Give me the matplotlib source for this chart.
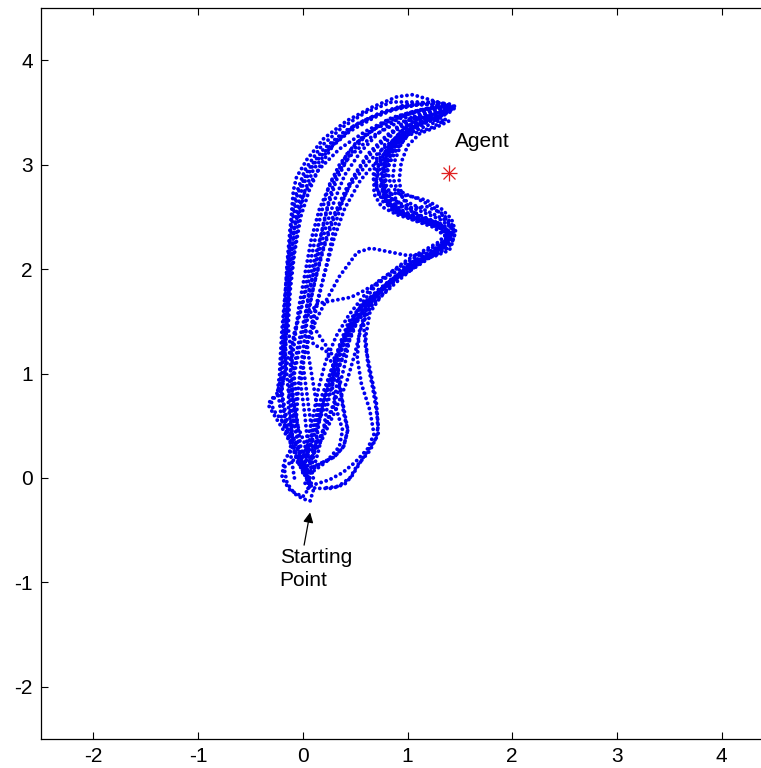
import matplotlib
matplotlib.use('Agg')
import matplotlib.pyplot as plt

plt.rcParams['font.family'] = ['Liberation Sans', 'DejaVu Sans']
plt.rcParams['axes.unicode_minus'] = False

# trajectories (x, y in plot units)
t1_x = [0.02, -0.06, -0.15, -0.2, -0.19, -0.17, -0.15, -0.13, -0.11, -0.09, -0.06, 0.04, 0.2, 0.42, 0.66, 0.9, 1.05, 1.22, 1.36, 1.46, 1.4, 1.2, 1.0, 0.86, 0.76, 0.7, 0.72, 0.86, 1.06, 1.24, 1.36, 1.43, 1.39, 1.26, 1.08, 0.9, 0.74, 0.64, 0.6, 0.62, 0.67, 0.71, 0.72, 0.64, 0.52, 0.45, 0.34, 0.18]
t1_y = [0.08, 0.3, 0.55, 0.8, 1.1, 1.45, 1.8, 2.15, 2.5, 2.75, 2.88, 3.05, 3.25, 3.42, 3.55, 3.65, 3.67, 3.62, 3.58, 3.55, 3.5, 3.43, 3.33, 3.2, 3.03, 2.85, 2.72, 2.73, 2.69, 2.6, 2.49, 2.37, 2.26, 2.16, 2.03, 1.88, 1.73, 1.58, 1.35, 1.1, 0.85, 0.6, 0.42, 0.26, 0.12, 0.0, -0.08, -0.1]

t2_x = [-0.05, -0.18, -0.15, -0.08, 0.0, 0.07, 0.1, 0.05, -0.02, -0.1, -0.18, -0.26, -0.33, -0.3, -0.22, -0.17, -0.16, -0.14, -0.12, -0.08, 0.0, 0.15, 0.35, 0.6, 0.85, 1.1, 1.3, 1.42, 1.3, 1.1, 0.95, 0.84, 0.78, 0.8, 0.95, 1.15, 1.33, 1.42, 1.36, 1.2, 1.02, 0.84, 0.68, 0.52, 0.42, 0.36, 0.33, 0.3, 0.2, 0.08]
t2_y = [0.2, 0.1, -0.05, -0.15, -0.2, -0.22, -0.12, 0.0, 0.15, 0.3, 0.45, 0.58, 0.7, 0.76, 0.8, 1.0, 1.35, 1.7, 2.05, 2.4, 2.7, 2.95, 3.15, 3.32, 3.45, 3.52, 3.56, 3.54, 3.47, 3.4, 3.28, 3.12, 2.95, 2.78, 2.6, 2.5, 2.42, 2.33, 2.22, 2.12, 2.0, 1.88, 1.75, 1.6, 1.42, 1.2, 0.95, 0.7, 0.45, 0.25]

t3_x = [0.0, 0.05, 0.02, -0.02, 0.02, 0.1, 0.17, 0.24, 0.3, 0.38, 0.48, 0.62, 0.8, 1.0, 1.2, 1.38, 1.3, 1.12, 0.96, 0.86, 0.8, 0.78, 0.84, 0.98, 1.15, 1.3, 1.38, 1.3, 1.15, 0.98, 0.8, 0.62, 0.48, 0.38, 0.3, 0.28, 0.32, 0.38, 0.35, 0.22, 0.08]
t3_y = [0.05, 0.3, 0.6, 0.9, 1.2, 1.5, 1.8, 2.1, 2.4, 2.65, 2.88, 3.1, 3.28, 3.42, 3.5, 3.52, 3.46, 3.38, 3.25, 3.1, 2.93, 2.76, 2.62, 2.52, 2.45, 2.4, 2.3, 2.2, 2.1, 1.98, 1.85, 1.7, 1.52, 1.32, 1.1, 0.88, 0.66, 0.46, 0.3, 0.15, 0.05]

t4_x = [-0.02, -0.1, -0.12, -0.1, -0.05, 0.02, 0.08, 0.14, 0.2, 0.26, 0.32, 0.42, 0.58, 0.78, 1.0, 1.22, 1.4, 1.32, 1.15, 1.0, 0.9, 0.82, 0.78, 0.8, 0.92, 1.1, 1.28, 1.4, 1.36, 1.22, 1.0, 0.8, 0.65, 0.52, 0.35, 0.24, 0.14, 0.08, 0.1, 0.22, 0.3, 0.36, 0.4, 0.43, 0.39, 0.3, 0.17, 0.04]
t4_y = [0.1, 0.35, 0.65, 0.95, 1.25, 1.55, 1.85, 2.15, 2.45, 2.7, 2.9, 3.1, 3.28, 3.4, 3.48, 3.53, 3.55, 3.5, 3.45, 3.35, 3.2, 3.05, 2.88, 2.7, 2.58, 2.48, 2.42, 2.33, 2.24, 2.15, 2.13, 2.17, 2.2, 2.16, 1.93, 1.73, 1.54, 1.4, 1.28, 1.22, 1.05, 0.84, 0.62, 0.46, 0.3, 0.2, 0.14, 0.08]

t5_x = [0.05, -0.02, -0.08, -0.14, -0.17, -0.15, -0.12, -0.08, -0.04, 0.02, 0.1, 0.25, 0.45, 0.68, 0.92, 1.15, 1.35, 1.44, 1.3, 1.1, 0.92, 0.8, 0.72, 0.7, 0.76, 0.92, 1.12, 1.3, 1.42, 1.38, 1.25, 1.08, 0.9, 0.72, 0.56, 0.44, 0.36, 0.28, 0.18, 0.1, 0.05, 0.0]
t5_y = [-0.05, 0.2, 0.5, 0.85, 1.2, 1.55, 1.9, 2.2, 2.5, 2.75, 2.95, 3.15, 3.32, 3.45, 3.55, 3.58, 3.57, 3.55, 3.48, 3.4, 3.3, 3.15, 2.98, 2.8, 2.65, 2.55, 2.47, 2.4, 2.32, 2.23, 2.14, 2.05, 1.93, 1.8, 1.65, 1.5, 1.3, 1.05, 0.78, 0.5, 0.25, 0.05]

t6_x = [0.1, 0.05, -0.05, -0.1, -0.12, -0.08, 0.0, 0.06, 0.12, 0.18, 0.25, 0.35, 0.5, 0.7, 0.95, 1.2, 1.35, 1.22, 1.0, 0.88, 0.8, 0.76, 0.78, 0.88, 1.05, 1.25, 1.38, 1.34, 1.2, 1.05, 0.88, 0.72, 0.58, 0.46, 0.35, 0.26, 0.2, 0.15, 0.12, 0.06]
t6_y = [0.0, 0.25, 0.5, 0.8, 1.1, 1.4, 1.7, 2.0, 2.3, 2.55, 2.8, 3.0, 3.2, 3.35, 3.45, 3.45, 3.42, 3.35, 3.28, 3.18, 3.02, 2.85, 2.68, 2.56, 2.47, 2.4, 2.3, 2.2, 2.1, 2.0, 1.9, 1.78, 1.62, 1.45, 1.25, 1.0, 0.75, 0.5, 0.28, 0.1]

t7_x = [-0.05, -0.15, -0.2, -0.22, -0.2, -0.17, -0.14, -0.1, -0.05, 0.05, 0.2, 0.4, 0.62, 0.85, 1.08, 1.3, 1.42, 1.3, 1.12, 0.98, 0.88, 0.8, 0.76, 0.8, 0.95, 1.14, 1.32, 1.44, 1.4, 1.26, 1.1, 0.92, 0.76, 0.62, 0.58, 0.6, 0.65, 0.7, 0.72, 0.7, 0.58, 0.47, 0.4, 0.28, 0.12, 0.02]
t7_y = [0.15, 0.45, 0.75, 1.05, 1.4, 1.75, 2.1, 2.45, 2.72, 2.95, 3.15, 3.32, 3.44, 3.52, 3.57, 3.58, 3.55, 3.48, 3.4, 3.3, 3.18, 3.02, 2.85, 2.7, 2.62, 2.55, 2.47, 2.38, 2.27, 2.17, 2.06, 1.93, 1.8, 1.65, 1.48, 1.25, 1.0, 0.75, 0.5, 0.38, 0.2, 0.02, -0.06, -0.1, -0.1, -0.05]

t8_x = [-0.08, -0.12, -0.1, -0.06, -0.1, -0.14, -0.12, -0.08, -0.02, 0.06, 0.16, 0.3, 0.5, 0.75, 1.0, 1.25, 1.45, 1.35, 1.15, 0.98, 0.85, 0.74, 0.68, 0.68, 0.75, 0.9, 1.1, 1.3, 1.4, 1.3, 1.12, 0.95, 0.8, 0.68, 0.6, 0.5, 0.42, 0.35, 0.28, 0.18, 0.1, 0.02, -0.05]
t8_y = [0.0, 0.25, 0.5, 0.8, 1.1, 1.45, 1.8, 2.15, 2.5, 2.75, 2.98, 3.2, 3.38, 3.5, 3.58, 3.6, 3.56, 3.52, 3.45, 3.36, 3.22, 3.05, 2.88, 2.72, 2.6, 2.52, 2.46, 2.4, 2.3, 2.2, 2.1, 1.98, 1.86, 1.74, 1.62, 1.5, 1.35, 1.18, 0.95, 0.7, 0.45, 0.25, 0.1]

t9_x = [0.05, 0.1, 0.08, 0.04, 0.0, 0.07, 0.14, 0.22, 0.3, 0.4, 0.55, 0.75, 0.98, 1.2, 1.36, 1.25, 1.05, 0.9, 0.8, 0.76, 0.8, 0.95, 1.15, 1.35, 1.42, 1.3, 1.1, 0.9, 0.7, 0.56, 0.46, 0.3, 0.14, 0.07, 0.1, 0.2, 0.3, 0.33, 0.36, 0.39, 0.43, 0.39, 0.3, 0.17, 0.05]
t9_y = [-0.1, 0.2, 0.5, 0.8, 1.1, 1.4, 1.7, 2.0, 2.3, 2.58, 2.85, 3.08, 3.28, 3.42, 3.48, 3.43, 3.36, 3.24, 3.08, 2.9, 2.72, 2.6, 2.5, 2.42, 2.33, 2.22, 2.1, 1.98, 1.86, 1.78, 1.73, 1.7, 1.67, 1.58, 1.45, 1.3, 1.15, 1.06, 0.84, 0.62, 0.46, 0.3, 0.2, 0.14, 0.05]

t10_x = [0.0, -0.1, -0.2, -0.28, -0.3, -0.24, -0.2, -0.19, -0.17, -0.15, -0.12, -0.07, 0.02, 0.18, 0.38, 0.6, 0.85, 1.1, 1.32, 1.45, 1.36, 1.15, 0.98, 0.86, 0.78, 0.74, 0.78, 0.9, 1.1, 1.3, 1.42, 1.35, 1.18, 1.0, 0.82, 0.66, 0.52, 0.4, 0.3, 0.22, 0.15, 0.08, 0.02]
t10_y = [0.2, 0.4, 0.55, 0.65, 0.72, 0.82, 1.0, 1.35, 1.7, 2.05, 2.4, 2.7, 2.95, 3.18, 3.36, 3.5, 3.6, 3.6, 3.57, 3.54, 3.5, 3.42, 3.33, 3.2, 3.04, 2.86, 2.68, 2.57, 2.5, 2.44, 2.34, 2.24, 2.12, 2.0, 1.86, 1.7, 1.52, 1.3, 1.05, 0.8, 0.55, 0.32, 0.12]

t11_x = [0.08, 0.0, -0.1, -0.14, -0.12, -0.08, -0.04, 0.02, 0.08, 0.16, 0.28, 0.45, 0.66, 0.9, 1.12, 1.3, 1.2, 1.02, 0.9, 0.82, 0.78, 0.78, 0.86, 1.02, 1.2, 1.36, 1.4, 1.28, 1.08, 0.88, 0.72, 0.6, 0.54, 0.52, 0.56, 0.64, 0.68, 0.62, 0.5, 0.38, 0.25, 0.12]
t11_y = [-0.05, 0.15, 0.4, 0.7, 1.0, 1.3, 1.62, 1.95, 2.28, 2.58, 2.85, 3.08, 3.27, 3.4, 3.45, 3.42, 3.38, 3.3, 3.15, 3.0, 2.82, 2.66, 2.55, 2.5, 2.45, 2.38, 2.28, 2.18, 2.06, 1.92, 1.78, 1.6, 1.4, 1.15, 0.9, 0.65, 0.42, 0.28, 0.15, 0.05, -0.02, -0.06]

t12_x = [-0.1, -0.18, -0.2, -0.12, 0.0, 0.06, 0.05, -0.02, -0.06, -0.04, 0.0, 0.04, 0.1, 0.18, 0.28, 0.42, 0.6, 0.82, 1.05, 1.28, 1.42, 1.3, 1.1, 0.94, 0.84, 0.8, 0.84, 1.0, 1.2, 1.38, 1.44, 1.32, 1.12, 0.92, 0.74, 0.58, 0.44, 0.32, 0.22, 0.15, 0.1, 0.04, -0.02]
t12_y = [0.3, 0.15, 0.0, -0.12, -0.18, -0.1, 0.05, 0.3, 0.6, 0.9, 1.2, 1.5, 1.82, 2.15, 2.48, 2.78, 3.05, 3.28, 3.44, 3.53, 3.54, 3.5, 3.44, 3.33, 3.18, 3.0, 2.8, 2.64, 2.55, 2.46, 2.36, 2.25, 2.14, 2.02, 1.9, 1.74, 1.56, 1.36, 1.12, 0.86, 0.6, 0.36, 0.16]

t13_x = [0.0, -0.05, -0.1, -0.08, -0.02, 0.05, 0.12, 0.2, 0.3, 0.45, 0.65, 0.88, 1.1, 1.3, 1.4, 1.28, 1.12, 1.0, 0.94, 0.92, 0.95, 1.05, 1.2, 1.35, 1.44, 1.4, 1.25, 1.05, 0.95, 0.82, 0.66, 0.52, 0.44, 0.4, 0.33, 0.22, 0.12, 0.04]
t13_y = [0.1, 0.4, 0.7, 1.0, 1.3, 1.6, 1.9, 2.2, 2.5, 2.8, 3.05, 3.25, 3.38, 3.45, 3.42, 3.36, 3.3, 3.18, 3.02, 2.85, 2.68, 2.55, 2.45, 2.38, 2.28, 2.18, 2.12, 2.08, 1.98, 1.82, 1.65, 1.5, 1.3, 1.08, 0.8, 0.52, 0.28, 0.1]

t14_x = [-0.12, -0.2, -0.24, -0.2, -0.16, -0.13, -0.1, -0.06, 0.0, 0.1, 0.28, 0.5, 0.75, 1.0, 1.22, 1.4, 1.3, 1.15, 1.02, 0.9, 0.8, 0.7, 0.67, 0.72, 0.84, 1.0, 1.18, 1.32, 1.42, 1.45, 1.38, 1.22, 1.06, 0.9, 0.78, 0.66, 0.56, 0.5, 0.42, 0.3, 0.18, 0.06]
t14_y = [0.35, 0.55, 0.85, 1.15, 1.5, 1.85, 2.2, 2.55, 2.8, 3.0, 3.2, 3.38, 3.5, 3.56, 3.6, 3.58, 3.54, 3.5, 3.44, 3.36, 3.22, 3.05, 2.88, 2.72, 2.62, 2.58, 2.6, 2.54, 2.44, 2.32, 2.2, 2.12, 2.04, 1.94, 1.82, 1.66, 1.45, 1.2, 0.92, 0.62, 0.36, 0.16]

t15_x = [0.04, -0.06, -0.16, -0.2, -0.14, -0.06, 0.02, 0.1, 0.18, 0.24, 0.32, 0.44, 0.6, 0.8, 1.02, 1.25, 1.42, 1.32, 1.12, 0.96, 0.86, 0.78, 0.74, 0.8, 0.96, 1.14, 1.3, 1.38, 1.3, 1.16, 1.0, 0.84, 0.68, 0.54, 0.46, 0.4, 0.3, 0.2, 0.1, 0.02]
t15_y = [-0.02, 0.2, 0.5, 0.85, 1.15, 1.45, 1.75, 2.05, 2.35, 2.6, 2.85, 3.08, 3.28, 3.42, 3.5, 3.55, 3.56, 3.5, 3.42, 3.3, 3.14, 2.96, 2.8, 2.64, 2.54, 2.48, 2.43, 2.35, 2.26, 2.18, 2.09, 1.97, 1.82, 1.64, 1.44, 1.2, 0.94, 0.66, 0.4, 0.18]

t16_x = [0.06, 0.12, 0.15, 0.1, 0.05, 0.02, 0.06, 0.14, 0.22, 0.3, 0.4, 0.55, 0.72, 0.92, 1.12, 1.3, 1.44, 1.35, 1.18, 1.04, 0.94, 0.88, 0.86, 0.9, 1.02, 1.18, 1.32, 1.42, 1.46, 1.42, 1.3, 1.14, 0.98, 0.84, 0.7, 0.58, 0.48, 0.4, 0.3, 0.24, 0.2, 0.15, 0.1]
t16_y = [0.0, 0.3, 0.6, 0.9, 1.2, 1.5, 1.8, 2.1, 2.4, 2.65, 2.9, 3.12, 3.3, 3.45, 3.52, 3.55, 3.54, 3.48, 3.42, 3.34, 3.2, 3.04, 2.88, 2.76, 2.7, 2.66, 2.58, 2.48, 2.36, 2.24, 2.15, 2.08, 2.0, 1.9, 1.78, 1.62, 1.42, 1.2, 0.96, 0.72, 0.48, 0.26, 0.08]

trajectories = [(t1_x, t1_y), (t2_x, t2_y), (t3_x, t3_y), (t4_x, t4_y),
                (t5_x, t5_y), (t6_x, t6_y), (t7_x, t7_y), (t8_x, t8_y),
                (t9_x, t9_y), (t10_x, t10_y), (t11_x, t11_y), (t12_x, t12_y),
                (t13_x, t13_y), (t14_x, t14_y), (t15_x, t15_y), (t16_x, t16_y)]

agent_x, agent_y = 1.4, 2.92
start_tip = (0.07, -0.33)
ticks = [-2, -1, 0, 1, 2, 3, 4]

fig = plt.figure(figsize=(7.61, 7.68), dpi=100)
# axes box runs past the right edge of the picture, like the cropped original
ax = fig.add_axes([41/761, 29/768, 733/761, 731/768])

for tx, ty in trajectories:
    ax.plot(tx, ty, color='#0000f0', lw=2.8, ls=(0, (0.01, 1.35)),
            dash_capstyle='round', solid_capstyle='round')

ax.plot(agent_x, agent_y, marker='+', color='#e02020', ms=11, mew=0.9)
ax.plot(agent_x, agent_y, marker='x', color='#e02020', ms=8, mew=0.9)
ax.text(1.455, 3.22, 'Agent', fontsize=15, va='center', ha='left')

ax.annotate('Starting\nPoint', xy=start_tip, xytext=(-0.22, -0.67),
            fontsize=15, ha='left', va='top', linespacing=1.3,
            arrowprops=dict(arrowstyle='-|>', color='black', lw=0.9,
                            mutation_scale=15, shrinkA=0, shrinkB=0,
                            relpos=(0.33, 1.0)))

ax.set_xlim(-2.5, 4.5)
ax.set_ylim(-2.5, 4.5)
ax.set_xticks(ticks)
ax.set_yticks(ticks)
ax.tick_params(direction='in', length=5, width=0.8, top=True, right=True,
               labelsize=15)
ax.tick_params(axis='x', pad=6)
ax.tick_params(axis='y', pad=6)
for sp in ax.spines.values():
    sp.set_linewidth(0.9)

fig.savefig('out.png', dpi=100)
